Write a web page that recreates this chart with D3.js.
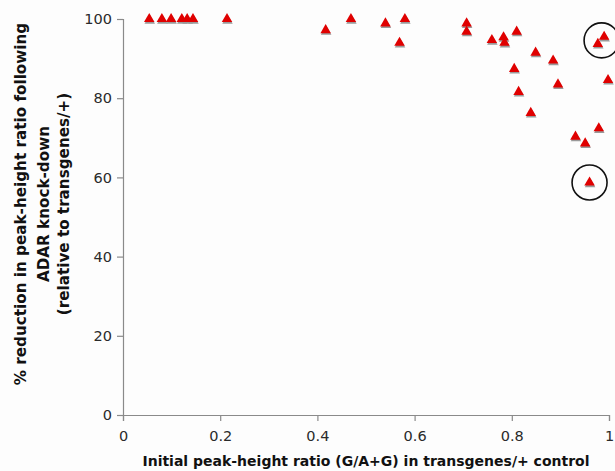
<!DOCTYPE html>
<html>
<head>
<meta charset="utf-8">
<script src="https://cdn.jsdelivr.net/npm/d3@7"></script>
<style>
  html, body { margin: 0; padding: 0; background: #fdfdfd; }
  svg { display: block; }
</style>
</head>
<body>
<svg id="chart" width="615" height="471"></svg>
<script>
// Initial peak-height ratio (G/A+G) in transgenes/+ control
const initialRatio = [
  0.054, 0.080, 0.099, 0.121, 0.132, 0.144, 0.214,
  0.417, 0.469, 0.540, 0.580, 0.569,
  0.707, 0.707, 0.759, 0.783, 0.785, 0.810,
  0.849, 0.885, 0.805, 0.998, 0.895, 0.814, 0.839,
  0.931, 0.951, 0.979, 0.960, 0.990, 0.977
];
// % reduction in peak-height ratio following ADAR knock-down
const reduction = [
  100, 100, 100, 100, 100, 100, 100,
  97.2, 100, 98.9, 100, 94.0,
  98.9, 96.8, 94.7, 95.4, 94.0, 96.8,
  91.5, 89.5, 87.4, 84.6, 83.5, 81.6, 76.3,
  70.3, 68.6, 72.4, 58.7, 95.5, 93.7
];
// Highlighted sites (indices into the arrays above)
const circledGroups = [[29, 30], [28]];

const xTicks = [0, 0.2, 0.4, 0.6, 0.8, 1];
const xTickLabels = ["0", "0.2", "0.4", "0.6", "0.8", "1"];
const yTicks = [0, 20, 40, 60, 80, 100];

const yTitleLines = [
  "% reduction in peak-height ratio following",
  "ADAR knock-down",
  "(relative to transgenes/+)"
];
const xTitle = "Initial peak-height ratio (G/A+G) in transgenes/+ control";

const svg = d3.select("#chart");
const x = d3.scaleLinear().domain([0, 1]).range([123, 609]);
const y = d3.scaleLinear().domain([0, 100]).range([415, 19]);

const font = "'DejaVu Sans', Verdana, sans-serif";

// Axes
const xAxis = svg.append("g")
  .attr("transform", `translate(0,${y(0)})`)
  .call(d3.axisBottom(x).tickValues(xTicks)
    .tickFormat((d, i) => xTickLabels[i]).tickSizeOuter(0).tickSize(6).tickPadding(10));
const yAxis = svg.append("g")
  .attr("transform", `translate(${x(0)},0)`)
  .call(d3.axisLeft(y).tickValues(yTicks).tickSizeOuter(0).tickSize(6).tickPadding(5));

[xAxis, yAxis].forEach(g => {
  g.select(".domain").attr("stroke", "#8a8a8a").attr("stroke-width", 1.2);
  g.selectAll(".tick line").attr("stroke", "#8a8a8a").attr("stroke-width", 1.2);
  g.selectAll(".tick text")
    .attr("fill", "#2a2a2a")
    .style("font-family", font)
    .style("font-size", "14.5px");
});

// Markers: red triangles with a soft grey drop shadow
const tri = d3.symbol().type(d3.symbolTriangle).size(48);
const pts = initialRatio.map((v, i) => ({ x: v, y: reduction[i] }));

svg.append("g").selectAll("path.shadow")
  .data(pts).join("path")
  .attr("class", "shadow")
  .attr("d", tri)
  .attr("transform", d => `translate(${x(d.x) + 0.5},${y(d.y) + 1.6})`)
  .attr("fill", "#9a9a9a");

svg.append("g").selectAll("path.pt")
  .data(pts).join("path")
  .attr("class", "pt")
  .attr("d", tri)
  .attr("transform", d => `translate(${x(d.x)},${y(d.y)})`)
  .attr("fill", "#e00000");

// Circles around highlighted sites
circledGroups.forEach(idx => {
  const cx = d3.mean(idx, i => x(initialRatio[i]));
  const cy = d3.mean(idx, i => y(reduction[i]));
  svg.append("circle")
    .attr("cx", cx + (idx.length > 1 ? 0.6 : 0))
    .attr("cy", cy)
    .attr("r", 17.5)
    .attr("fill", "none")
    .attr("stroke", "#111")
    .attr("stroke-width", 1.6);
});

// Axis titles
svg.append("text")
  .attr("x", 366).attr("y", 466)
  .attr("text-anchor", "middle")
  .style("font-family", font)
  .style("font-weight", "bold")
  .style("font-size", "14px")
  .attr("fill", "#111")
  .text(xTitle);

const yTitle = svg.append("text")
  .attr("transform", "translate(0,204) rotate(-90)")
  .attr("text-anchor", "middle")
  .style("font-family", font)
  .style("font-weight", "bold")
  .style("font-size", "15.2px")
  .attr("fill", "#111");
[26, 49, 69].forEach((dx, i) => {
  yTitle.append("tspan").attr("x", 0).attr("y", dx).text(yTitleLines[i]);
});
</script>
</body>
</html>
